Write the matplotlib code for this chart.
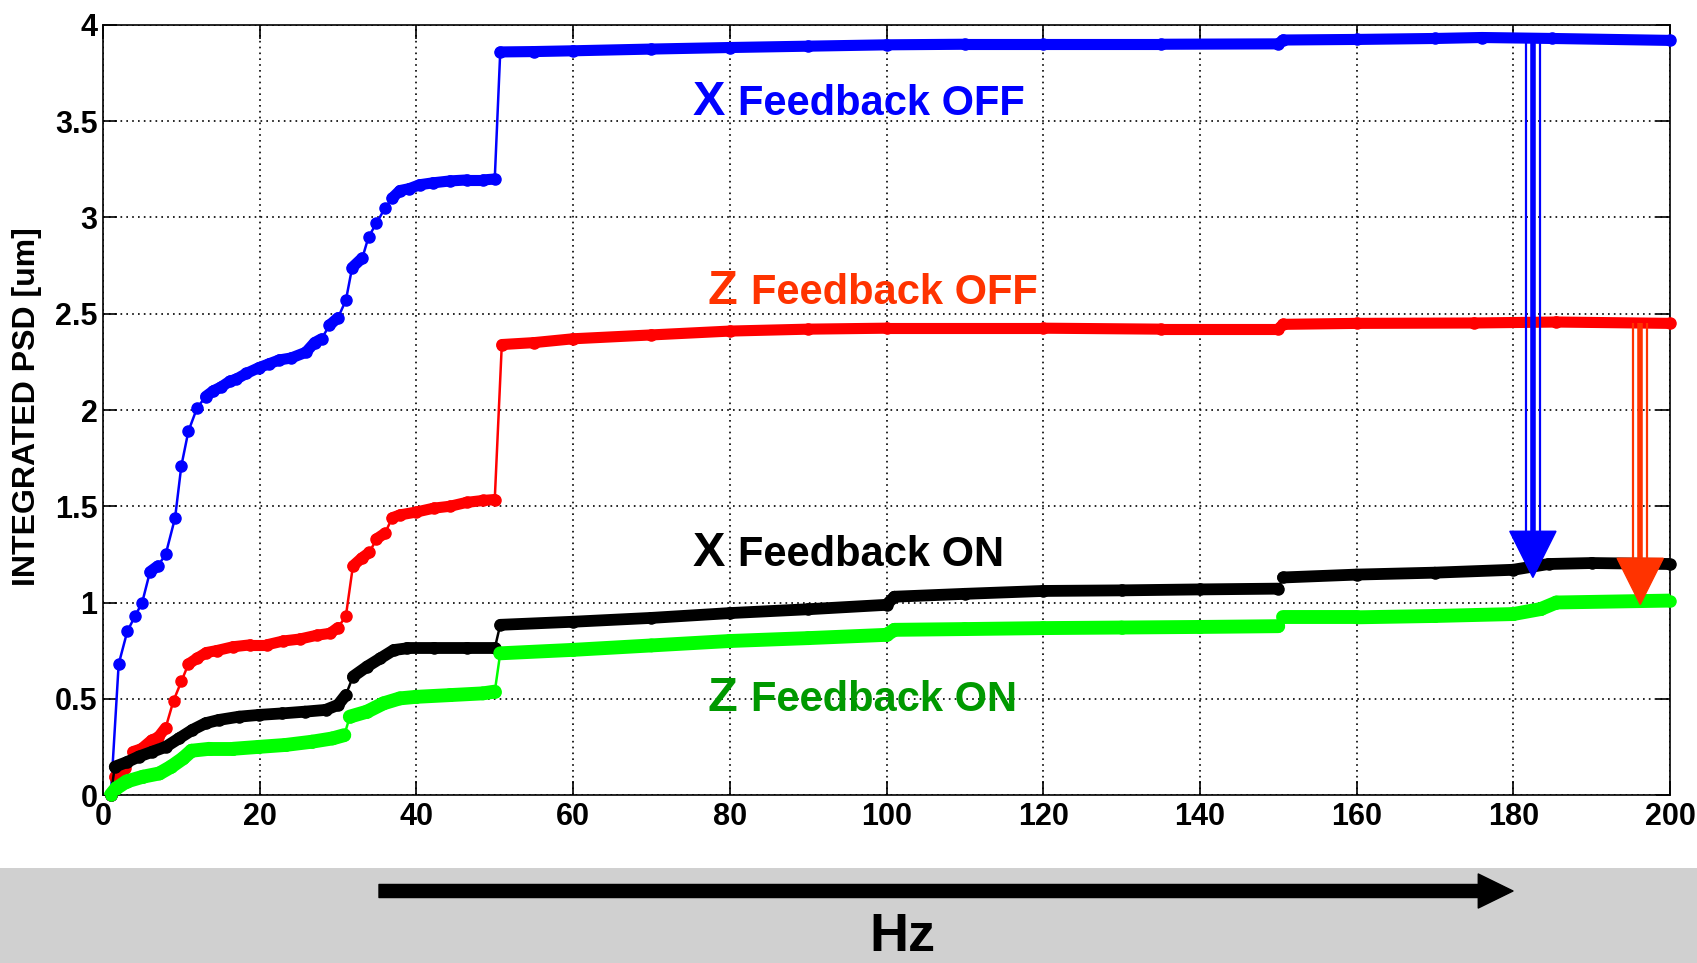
import numpy as np
import matplotlib.pyplot as plt
from matplotlib.collections import LineCollection
from matplotlib.patches import Rectangle, FancyArrowPatch, Polygon

plt.rcParams['font.family'] = ['Liberation Sans', 'DejaVu Sans']
plt.rcParams['font.weight'] = 'bold'

# Integrated PSD [um] vs frequency [Hz], read at the visible samples / breakpoints
x_off_f = [1, 2, 3.1, 4.1, 5, 6, 7, 8, 9.2, 10, 10.9, 12, 13.1, 14.1, 15.1, 16.2, 17, 18.3,
           19.9, 21.2, 22.5, 24, 25.9, 27, 27.9, 28.9, 30, 31, 31.8, 33.1, 33.9, 34.9, 36,
           36.9, 37.9, 39.1, 40.4, 42.1, 44.3, 46.4, 48.5, 50, 50.7, 55, 60, 70, 80, 90, 100,
           110, 120, 135, 150, 150.6, 160, 170, 176, 185, 200]
x_off_psd = [0, 0.68, 0.85, 0.93, 1.0, 1.16, 1.19, 1.25, 1.44, 1.71, 1.89, 2.01, 2.07, 2.10,
             2.12, 2.15, 2.16, 2.19, 2.22, 2.24, 2.26, 2.27, 2.30, 2.35, 2.37, 2.44, 2.48, 2.57,
             2.74, 2.79, 2.90, 2.97, 3.05, 3.10, 3.14, 3.15, 3.17, 3.18, 3.19, 3.195, 3.195,
             3.20, 3.86, 3.862, 3.866, 3.875, 3.883, 3.89, 3.897, 3.90, 3.90, 3.90, 3.902,
             3.922, 3.925, 3.93, 3.935, 3.93, 3.92]

z_off_f = [1, 1.5, 2.8, 3.8, 4.9, 6.2, 7.05, 8, 9, 10, 10.9, 12, 13.2, 14.5, 16.6, 18.8, 20.9,
           23, 25.1, 27.3, 29, 30, 31, 31.9, 33, 34, 34.9, 36, 36.9, 37.9, 40, 42.2, 44.3,
           46.4, 48.5, 50, 50.9, 55, 60, 70, 80, 90, 100, 120, 135, 150, 150.6, 160, 175,
           185.5, 200]
z_off_psd = [0, 0.095, 0.14, 0.225, 0.24, 0.285, 0.30, 0.35, 0.49, 0.59, 0.68, 0.71, 0.74,
             0.75, 0.77, 0.78, 0.78, 0.80, 0.81, 0.83, 0.84, 0.87, 0.93, 1.19, 1.23, 1.26,
             1.33, 1.36, 1.44, 1.455, 1.47, 1.49, 1.50, 1.52, 1.53, 1.535, 2.34, 2.35, 2.37,
             2.39, 2.41, 2.42, 2.425, 2.425, 2.42, 2.42, 2.445, 2.45, 2.452, 2.457, 2.45]

x_on_f = [1, 1.5, 3, 4.6, 6.3, 8, 9.7, 11.4, 13.1, 14.8, 17.4, 19.9, 22.9, 25.8, 28.4, 30, 31,
          31.9, 33.7, 35.4, 37.1, 38.8, 42.2, 46.4, 50, 50.7, 60, 70, 80, 90, 100, 101, 110,
          120, 130, 140, 150, 150.6, 160, 170, 180, 184.5, 190, 200]
x_on_psd = [0, 0.147, 0.17, 0.20, 0.225, 0.25, 0.294, 0.338, 0.373, 0.39, 0.407, 0.416, 0.424,
            0.433, 0.442, 0.468, 0.52, 0.615, 0.667, 0.71, 0.753, 0.762, 0.762, 0.762, 0.762,
            0.884, 0.90, 0.92, 0.945, 0.965, 0.988, 1.03, 1.045, 1.06, 1.063, 1.068, 1.072,
            1.13, 1.145, 1.155, 1.17, 1.20, 1.205, 1.20]

z_on_f = [1, 1.7, 3, 5.1, 7.2, 8.7, 10.2, 11.3, 13.6, 16.6, 19.9, 23.3, 26.7, 29.3, 30.8, 31.5,
          33.7, 35.8, 37.9, 40, 44.3, 48.5, 50, 50.7, 60, 70, 80, 90, 100, 101, 110, 120, 130,
          140, 150, 150.6, 160, 170, 180, 183.5, 185.5, 200]
z_on_psd = [0, 0.035, 0.07, 0.095, 0.112, 0.147, 0.19, 0.23, 0.24, 0.24, 0.25, 0.26, 0.277,
            0.294, 0.311, 0.407, 0.433, 0.476, 0.502, 0.51, 0.519, 0.528, 0.537, 0.736, 0.754,
            0.777, 0.80, 0.815, 0.832, 0.858, 0.862, 0.867, 0.870, 0.873, 0.877, 0.923, 0.923,
            0.93, 0.94, 0.966, 1.0, 1.01]

# reduction arrows: frequency, start (feedback off), tip (feedback on)
drop_f = [182.5, 196.2]
drop_from = [3.92, 2.45]
drop_to = [1.13, 0.99]
drop_colors = ['#0000ff', '#ff3300']

xticks = [0, 20, 40, 60, 80, 100, 120, 140, 160, 180, 200]
yticks = [0, 0.5, 1, 1.5, 2, 2.5, 3, 3.5, 4]
ytick_labels = ['0', '0.5', '1', '1.5', '2', '2.5', '3', '3.5', '4']

W, H = 1697, 963
fig = plt.figure(figsize=(W / 100, H / 100), dpi=100)
ax = fig.add_axes([103 / W, 168 / H, (1670 - 103) / W, (795 - 25) / H])
ax.set_xlim(0, 200)
ax.set_ylim(0, 4)


def draw_trace(f, v, color, band):
    f = np.asarray(f, float)
    v = np.asarray(v, float)
    xy = np.column_stack([f, v])
    # where samples are dense on screen (shallow slope) the markers merge into a solid band
    pix = ax.transData.transform(xy)
    d = np.diff(pix, axis=0)
    flat = np.abs(d[:, 1]) < 1.3 * np.abs(d[:, 0])
    segs = np.stack([xy[:-1], xy[1:]], axis=1)[flat]
    ax.add_collection(LineCollection(segs, colors=color, linewidths=band,
                                     capstyle='round', joinstyle='round', zorder=3))
    ax.plot(f, v, '-', color=color, lw=1.8, marker='o', ms=8, mec=color, zorder=3,
            clip_on=False)


draw_trace(x_off_f, x_off_psd, '#0000ff', 8)
draw_trace(z_off_f, z_off_psd, '#ff0000', 8)
draw_trace(x_on_f, x_on_psd, '#000000', 8.5)
draw_trace(z_on_f, z_on_psd, '#00ff00', 10)

# triple-shaft arrows from the OFF level down to the ON level
head_half, head_len, gap = 2.95, 0.24, 0.9
for f0, y0, y1, c in zip(drop_f, drop_from, drop_to, drop_colors):
    top = y1 + head_len
    ax.plot([f0, f0], [y0, top], color=c, lw=4, solid_capstyle='butt', zorder=5)
    for dx in (-gap, gap):
        ax.plot([f0 + dx, f0 + dx], [y0, top], color=c, lw=1.6, solid_capstyle='butt', zorder=5)
    ax.add_patch(Polygon([[f0 - head_half, top], [f0 + head_half, top], [f0, y1]],
                         closed=True, facecolor=c, edgecolor=c, lw=1, zorder=6))

# curve labels
labels = [
    ('X', 'Feedback OFF', 75.3, 81.1, 3.53, '#0000ff'),
    ('Z', 'Feedback OFF', 77.1, 82.7, 2.55, '#ff3300'),
    ('X', 'Feedback ON', 75.3, 81.1, 1.19, '#000000'),
    ('Z', 'Feedback ON', 77.1, 82.7, 0.436, '#009900'),
]
for big, rest, xb, xr, yb, c in labels:
    ax.text(xb, yb, big, color=c, fontsize=35, fontweight='bold', va='baseline', ha='left', zorder=7)
    ax.text(xr, yb, rest, color=c, fontsize=30, fontweight='bold', va='baseline', ha='left', zorder=7)

ax.set_xticks(xticks)
ax.set_xticklabels([str(t) for t in xticks])
ax.set_yticks(yticks)
ax.set_yticklabels(ytick_labels)
ax.tick_params(axis='both', direction='in', length=10, width=1.2, labelsize=22,
               top=True, right=True)
ax.tick_params(axis='x', pad=5)
ax.tick_params(axis='y', pad=4)
for lab in ax.get_xticklabels() + ax.get_yticklabels():
    lab.set_fontweight('bold')
ax.grid(True, color='black', linestyle=(0, (1, 2.5)), linewidth=1.2)
ax.set_axisbelow(True)
for s in ax.spines.values():
    s.set_linewidth(1.2)

fig.text(27 / W, 1 - 407 / H, 'INTEGRATED PSD [um]', rotation=90, ha='center', va='center',
         fontsize=23, fontweight='bold')

# grey strip with the frequency arrow underneath the plot
fig.add_artist(Rectangle((0, 0), 1, 95 / H, transform=fig.transFigure,
                         facecolor='#d0d0d0', edgecolor='none', zorder=0))
fig.add_artist(FancyArrowPatch((379 / W, 72 / H), (1513 / W, 72 / H), transform=fig.transFigure,
                               arrowstyle='simple,tail_width=0.94,head_width=2.45,head_length=2.5',
                               mutation_scale=10, color='black', shrinkA=0, shrinkB=0))
fig.text(902 / W, 1 / H, 'Hz', ha='center', va='bottom', fontsize=39, fontweight='bold')

fig.savefig('out.png', dpi=100)
